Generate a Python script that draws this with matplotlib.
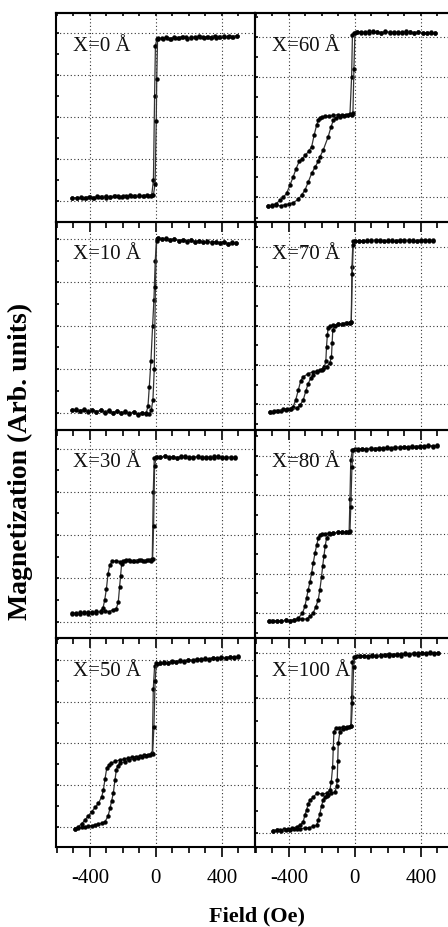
import matplotlib
matplotlib.use("Agg")
import matplotlib.pyplot as plt
from matplotlib.ticker import MultipleLocator, FixedLocator

plt.rcParams['font.family'] = ['Liberation Serif', 'DejaVu Serif']
plt.rcParams['axes.unicode_minus'] = False

# ---------------- data (field in Oe, magnetization in arb. units) ----------------
LABELS = ["X=0 Å", "X=60 Å", "X=10 Å", "X=70 Å", "X=30 Å", "X=80 Å", "X=50 Å", "X=100 Å"]

# X = 0
H_DN_0 = [490, 465, 440, 415, 390, 365, 340, 315, 290, 265, 240, 215, 190, 165, 140, 115, 90, 65, 40, 15, 5,
          -3, -8, -15, -25,
          -50, -75, -100, -125, -150, -175, -200, -225, -250, -275, -300, -325, -350, -375, -400, -425, -450, -475, -510]
M_DN_0 = [3.93, 3.91, 3.94, 3.90, 3.92, 3.89, 3.92, 3.90, 3.88, 3.91, 3.89, 3.90, 3.87, 3.90, 3.88, 3.89, 3.87, 3.89, 3.86, 3.88, 3.85,
          3.70, 2.50, 0.50, 0.15,
          0.13, 0.12, 0.14, 0.11, 0.12, 0.10, 0.12, 0.09, 0.11, 0.10, 0.08, 0.10, 0.09, 0.07, 0.09, 0.08, 0.06, 0.08, 0.07]
H_UP_0 = [-510, -480, -455, -430, -405, -380, -355, -330, -305, -280, -255, -230, -205, -180, -155, -130, -105, -80, -55, -30, -15,
          -5, 2, 5, 10,
          35, 60, 85, 110, 135, 160, 185, 210, 235, 260, 285, 310, 335, 360, 385, 410, 435, 460, 490]
M_UP_0 = [0.08, 0.06, 0.09, 0.07, 0.10, 0.08, 0.11, 0.09, 0.12, 0.10, 0.11, 0.13, 0.10, 0.12, 0.14, 0.11, 0.13, 0.12, 0.14, 0.13, 0.15,
          0.40, 1.90, 2.90, 3.86,
          3.88, 3.90, 3.87, 3.91, 3.89, 3.92, 3.90, 3.88, 3.91, 3.93, 3.90, 3.92, 3.89, 3.94, 3.91, 3.93, 3.90, 3.92, 3.94]

# X = 10
H_DN_10 = [487, 462, 437, 412, 387, 362, 337, 312, 287, 262, 237, 212, 187, 162, 137, 112, 87, 62, 37, 12, 4,
           -4, -12, -20, -30, -40, -48,
           -60, -85, -110, -135, -160, -185, -210, -235, -260, -285, -310, -335, -360, -385, -410, -435, -460, -485, -510]
M_DN_10 = [3.90, 3.92, 3.89, 3.93, 3.91, 3.94, 3.92, 3.95, 3.93, 3.96, 3.94, 3.97, 3.95, 3.98, 3.96, 4.00, 3.98, 4.01, 3.99, 4.02, 4.01,
           3.50, 2.60, 2.00, 1.20, 0.60, 0.15,
           -0.03, 0.00, -0.05, 0.02, -0.02, 0.03, -0.01, 0.04, 0.00, 0.05, 0.01, 0.06, 0.02, 0.07, 0.03, 0.08, 0.04, 0.07, 0.06]
H_UP_10 = [-510, -485, -460, -435, -410, -385, -360, -335, -310, -285, -260, -235, -210, -185, -160, -135, -110, -85, -60,
           -40, -28, -18, -10, -3, 4, 12,
           37, 62, 87, 112, 137, 162, 187, 212, 237, 262, 287, 312, 337, 362, 387, 412, 437, 462, 487]
M_UP_10 = [0.05, 0.08, 0.03, 0.07, 0.02, 0.06, 0.01, 0.05, 0.00, 0.04, -0.01, 0.03, -0.02, 0.02, -0.03, 0.01, -0.04, 0.00, -0.02,
           -0.03, 0.05, 0.30, 1.00, 2.90, 3.95, 4.03,
           4.00, 4.02, 3.98, 4.00, 3.96, 3.98, 3.94, 3.97, 3.93, 3.95, 3.92, 3.94, 3.90, 3.93, 3.91, 3.92, 3.89, 3.91, 3.90]

# X = 30
H_DN_30 = [477, 452, 427, 402, 377, 352, 327, 302, 277, 252, 227, 202, 177, 152, 127, 102, 77, 52, 27,
           5, -10, -16, -22, -40, -65, -90, -115, -140, -165, -190, -215, -240, -265, -280, -290, -300, -310, -320,
           -335, -360, -385, -410, -435, -460, -485, -510]
M_DN_30 = [3.79, 3.81, 3.78, 3.80, 3.82, 3.79, 3.81, 3.78, 3.80, 3.82, 3.79, 3.81, 3.80, 3.82, 3.79, 3.81, 3.80, 3.82, 3.81,
           3.80, 3.78, 3.00, 1.45, 1.42, 1.40, 1.43, 1.41, 1.39, 1.42, 1.40, 1.38, 1.41, 1.39, 1.30, 1.10, 0.75, 0.50, 0.32,
           0.24, 0.20, 0.22, 0.18, 0.21, 0.17, 0.20, 0.18]
H_UP_30 = [-510, -485, -460, -435, -410, -385, -360, -335, -310, -285, -260,
           -240, -228, -220, -214, -208, -200,
           -180, -155, -130, -105, -80, -55, -30,
           -20, -14, -8, 2,
           27, 52, 77, 102, 127, 152, 177, 202, 227, 252, 277, 302, 327, 352, 377, 402, 427, 452, 477]
M_UP_30 = [0.20, 0.17, 0.21, 0.19, 0.23, 0.20, 0.24, 0.21, 0.25, 0.23, 0.27,
           0.30, 0.45, 0.80, 1.05, 1.32, 1.40,
           1.42, 1.39, 1.41, 1.43, 1.40, 1.42, 1.41,
           1.44, 2.20, 3.60, 3.81,
           3.80, 3.82, 3.79, 3.81, 3.78, 3.80, 3.82, 3.79, 3.81, 3.80, 3.78, 3.81, 3.79, 3.82, 3.80, 3.78, 3.81, 3.79, 3.80]

# X = 50
H_DN_50 = [497, 472, 447, 422, 397, 372, 347, 322, 297, 272, 247, 222, 197, 172, 147, 122, 97, 72, 47, 22,
           5, -8, -16, -22, -45, -70, -95, -120, -145, -170, -195, -220, -245, -270, -285, -298, -308, -318, -328,
           -348, -368, -389, -409, -429, -449, -469, -489]
M_DN_50 = [4.08, 4.06, 4.07, 4.04, 4.05, 4.02, 4.04, 4.01, 4.02, 3.99, 4.00, 3.98, 3.99, 3.96, 3.97, 3.95, 3.96, 3.93, 3.94, 3.92,
           3.91, 3.85, 3.30, 1.76, 1.73, 1.72, 1.70, 1.68, 1.67, 1.64, 1.62, 1.60, 1.57, 1.52, 1.48, 1.40, 1.15, 0.88, 0.72,
           0.56, 0.46, 0.36, 0.26, 0.16, 0.07, 0.00, -0.05]
H_UP_50 = [-489, -469, -449, -429, -409, -389, -369, -349, -329,
           -308, -290, -278, -268, -258, -248, -240, -232,
           -215, -187, -160, -135, -110, -85, -60, -35,
           -20, -12, -5, 3,
           22, 47, 72, 97, 122, 147, 172, 197, 222, 247, 272, 297, 322, 347, 372, 397, 422, 447, 472, 497]
M_UP_50 = [-0.05, -0.04, -0.02, -0.01, 0.01, 0.02, 0.04, 0.06, 0.08,
           0.12, 0.25, 0.44, 0.62, 0.80, 1.12, 1.35, 1.46,
           1.52, 1.56, 1.60, 1.63, 1.65, 1.68, 1.70, 1.72,
           1.75, 2.40, 3.50, 3.92,
           3.93, 3.95, 3.94, 3.97, 3.96, 3.99, 3.98, 4.01, 4.00, 4.03, 4.02, 4.04, 4.03, 4.06, 4.05, 4.07, 4.06, 4.08, 4.07, 4.09]

# X = 60
H_DN_60 = [485, 460, 435, 410, 385, 360, 335, 310, 285, 260, 235, 210, 185, 160, 135, 110, 85, 60, 35, 10,
           -5, -15, -20, -30, -55, -80, -105, -130, -155, -180, -200, -212, -222, -232, -247, -262, -280, -300, -320,
           -337, -356, -374, -394, -414, -435, -455, -475, -500, -525]
M_DN_60 = [4.09, 4.11, 4.08, 4.10, 4.12, 4.09, 4.11, 4.13, 4.10, 4.12, 4.09, 4.11, 4.13, 4.10, 4.12, 4.11, 4.13, 4.10, 4.12, 4.11,
           4.10, 4.05, 3.00, 2.07, 2.06, 2.05, 2.06, 2.04, 2.03, 2.02, 2.00, 1.98, 1.92, 1.80, 1.55, 1.26, 1.15, 1.05, 0.96,
           0.90, 0.72, 0.51, 0.30, 0.10, 0.00, -0.07, -0.15, -0.19, -0.21]
H_UP_60 = [-525, -500, -475, -450, -425, -400, -375,
           -343, -323, -303, -283, -262, -242, -222, -212, -192, -162, -145, -131, -117,
           -91, -65, -40, -20, -12, -6, 0,
           10, 35, 60, 85, 110, 135, 160, 185, 210, 235, 260, 285, 310, 335, 360, 385, 410, 435, 460, 485]
M_UP_60 = [-0.20, -0.22, -0.19, -0.21, -0.18, -0.16, -0.13,
           -0.05, 0.06, 0.18, 0.38, 0.60, 0.75, 0.90, 1.01, 1.18, 1.51, 1.75, 1.92, 1.97,
           2.00, 2.02, 2.04, 2.06, 2.10, 3.20, 4.08,
           4.11, 4.09, 4.12, 4.10, 4.13, 4.11, 4.09, 4.12, 4.10, 4.12, 4.09, 4.11, 4.10, 4.12, 4.09, 4.11, 4.10, 4.08, 4.10, 4.09]

# X = 70
H_DN_70 = [475, 450, 425, 400, 375, 350, 325, 300, 275, 250, 225, 200, 175, 150, 125, 100, 75, 50, 25, 0,
           -12, -18, -22, -30, -55, -80, -105, -130, -152, -162, -167, -172, -176, -185, -202, -227, -253, -283, -313,
           -328, -343, -358, -374, -395, -420, -445, -470, -495, -515]
M_DN_70 = [4.17, 4.15, 4.18, 4.16, 4.14, 4.17, 4.15, 4.18, 4.16, 4.15, 4.17, 4.14, 4.16, 4.18, 4.15, 4.17, 4.14, 4.16, 4.15, 4.16,
           4.14, 3.50, 2.10, 2.07, 2.06, 2.04, 2.03, 2.01, 1.99, 1.95, 1.75, 1.46, 1.10, 0.95, 0.87, 0.85, 0.83, 0.78, 0.70,
           0.60, 0.36, 0.12, -0.06, -0.12, -0.15, -0.17, -0.18, -0.19, -0.19]
H_UP_70 = [-515, -490, -465, -434, -410, -385, -353, -333,
           -313, -298, -283, -268, -253, -232, -212, -192, -172, -152, -142, -138, -134,
           -121, -100, -75, -50, -30, -22, -16, -10, 0,
           25, 50, 75, 100, 125, 150, 175, 200, 225, 250, 275, 300, 325, 350, 375, 400, 425, 450, 475]
M_UP_70 = [-0.19, -0.18, -0.16, -0.12, -0.12, -0.11, -0.10, -0.02,
           0.11, 0.33, 0.53, 0.66, 0.75, 0.82, 0.87, 0.91, 0.95, 1.05, 1.21, 1.55, 1.89,
           2.00, 2.03, 2.05, 2.06, 2.07, 2.10, 3.30, 4.05, 4.15,
           4.16, 4.14, 4.17, 4.15, 4.18, 4.16, 4.14, 4.17, 4.15, 4.16, 4.18, 4.15, 4.17, 4.14, 4.16, 4.18, 4.15, 4.17, 4.16]

# X = 80
H_DN_80 = [495, 470, 445, 420, 395, 370, 345, 320, 295, 270, 245, 220, 195, 170, 145, 120, 95, 70, 45, 20,
           0, -15, -25, -30, -35, -55, -80, -105, -130, -155, -180, -200, -212, -222, -232, -242, -252, -262, -272,
           -283, -293, -303, -318, -343, -370, -395, -420, -445, -470, -500, -520]
M_DN_80 = [4.25, 4.23, 4.24, 4.22, 4.23, 4.21, 4.22, 4.20, 4.21, 4.19, 4.20, 4.18, 4.19, 4.17, 4.18, 4.16, 4.17, 4.15, 4.16, 4.15,
           4.16, 4.14, 3.90, 2.90, 2.07, 2.06, 2.05, 2.05, 2.04, 2.03, 2.02, 2.01, 1.99, 1.90, 1.72, 1.52, 1.28, 1.02, 0.80,
           0.59, 0.38, 0.17, 0.00, -0.13, -0.17, -0.19, -0.18, -0.20, -0.19, -0.21, -0.20]
H_UP_80 = [-520, -495, -470, -445, -420, -395, -370, -345, -320,
           -293, -273, -253, -238, -222, -212, -202, -195, -188, -180, -172,
           -152, -130, -105, -80, -55, -38, -30, -25, -18, -10,
           20, 45, 70, 95, 120, 145, 170, 195, 220, 245, 270, 295, 320, 345, 370, 395, 420, 445, 470, 495]
M_UP_80 = [-0.21, -0.20, -0.19, -0.20, -0.18, -0.19, -0.17, -0.16, -0.15,
           -0.15, -0.08, 0.00, 0.15, 0.34, 0.60, 0.93, 1.20, 1.44, 1.70, 1.90,
           2.02, 2.04, 2.05, 2.06, 2.06, 2.07, 2.08, 2.70, 3.72, 4.15,
           4.16, 4.18, 4.17, 4.19, 4.18, 4.20, 4.19, 4.21, 4.20, 4.22, 4.21, 4.23, 4.22, 4.24, 4.23, 4.25, 4.24, 4.26, 4.25, 4.26]

# X = 100
H_DN_100 = [505, 480, 455, 430, 405, 380, 355, 330, 305, 280, 255, 230, 205, 180, 155, 130, 105, 80, 55, 30,
            10, -5, -15, -20, -25, -45, -70, -95, -115, -127, -131, -135, -143, -152, -172, -200, -232, -253, -273,
            -283, -293, -303, -313, -333, -353, -378, -403, -428, -453, -474, -495]
M_DN_100 = [4.00, 3.99, 4.01, 3.98, 4.00, 3.97, 3.99, 3.96, 3.98, 3.95, 3.97, 3.96, 3.94, 3.96, 3.93, 3.95, 3.94, 3.92, 3.94, 3.93,
            3.93, 3.92, 3.80, 3.04, 2.38, 2.37, 2.36, 2.35, 2.34, 2.26, 1.90, 1.48, 1.15, 0.96, 0.89, 0.88, 0.89, 0.80, 0.74,
            0.65, 0.52, 0.41, 0.26, 0.18, 0.15, 0.12, 0.10, 0.09, 0.08, 0.07, 0.06]
H_UP_100 = [-495, -470, -445, -420, -395, -370, -353, -330, -300, -275, -253, -232,
            -222, -212, -202, -192, -182, -172, -162, -142, -121,
            -111, -107, -104, -101, -91, -75, -55, -35, -22, -15, -8, 0,
            30, 55, 80, 105, 130, 155, 180, 205, 230, 255, 280, 305, 330, 355, 380, 405, 430, 455, 480, 505]
M_UP_100 = [0.06, 0.07, 0.06, 0.08, 0.07, 0.09, 0.10, 0.11, 0.12, 0.13, 0.16, 0.18,
            0.30, 0.44, 0.62, 0.74, 0.80, 0.83, 0.86, 0.89, 0.92,
            1.05, 1.18, 1.60, 2.00, 2.26, 2.33, 2.35, 2.36, 2.38, 2.90, 3.70, 3.92,
            3.93, 3.95, 3.94, 3.96, 3.95, 3.97, 3.96, 3.98, 3.97, 3.99, 3.98, 4.00, 3.99, 4.01, 4.00, 4.01, 4.00, 4.02, 4.01, 4.00]

X_TICKS = [-400, 0, 400]
X_TICK_LABELS = ["-400", "0", "400"]

# panel order: row by row, left then right
PANELS = [
    (H_DN_0, M_DN_0, H_UP_0, M_UP_0),
    (H_DN_60, M_DN_60, H_UP_60, M_UP_60),
    (H_DN_10, M_DN_10, H_UP_10, M_UP_10),
    (H_DN_70, M_DN_70, H_UP_70, M_UP_70),
    (H_DN_30, M_DN_30, H_UP_30, M_UP_30),
    (H_DN_80, M_DN_80, H_UP_80, M_UP_80),
    (H_DN_50, M_DN_50, H_UP_50, M_UP_50),
    (H_DN_100, M_DN_100, H_UP_100, M_UP_100),
]
YLIMS = [(-0.50, 4.48), (-0.61, 4.59),
         (-0.40, 4.39), (-0.65, 4.63),
         (-0.38, 4.43), (-0.63, 4.65),
         (-0.49, 4.53), (-0.30, 4.34)]

# ---------------- figure ----------------
W, H = 448, 927
fig = plt.figure(figsize=(W / 100, H / 100), dpi=100)

col_x = [56, 255]
col_w = 199
row_y = [13, 222, 430, 638, 847]

for i, (hd, md, hu, mu) in enumerate(PANELS):
    r, c = divmod(i, 2)
    left = col_x[c] / W
    bottom = 1 - row_y[r + 1] / H
    height = (row_y[r + 1] - row_y[r]) / H
    ax = fig.add_axes([left, bottom, col_w / W, height])
    ax.set_facecolor('none')
    ax.set_xlim(-605, 600)
    ax.set_ylim(*YLIMS[i])
    for hh, mm in ((hd, md), (hu, mu)):
        ax.plot(hh, mm, color='#333333', lw=0.9, marker='o', ms=2.8,
                mfc='black', mec='black', mew=0.3, zorder=3)
    ax.xaxis.set_major_locator(FixedLocator(X_TICKS))
    ax.xaxis.set_minor_locator(MultipleLocator(100))
    ax.yaxis.set_major_locator(MultipleLocator(1))
    ax.yaxis.set_minor_locator(MultipleLocator(0.5))
    ax.grid(True, which='major', linestyle=(0, (1, 2.2)), color='#333333', lw=0.8)
    for s in ax.spines.values():
        s.set_linewidth(1.5)
    ax.tick_params(axis='x', which='major', direction='out', length=7.5, width=1.2,
                   top=False, labelsize=15, pad=8)
    ax.tick_params(axis='x', which='minor', direction='out', length=4, width=1.2, top=False)
    ax.tick_params(axis='y', which='both', direction='in', length=2.2, width=1.2,
                   labelleft=False, right=False)
    if r == 0:
        sec = ax.secondary_xaxis('top')
        sec.xaxis.set_major_locator(FixedLocator(X_TICKS))
        sec.xaxis.set_minor_locator(MultipleLocator(100))
        sec.tick_params(axis='x', which='both', direction='in', length=2.2, width=1.2,
                        labeltop=False)
        sec.spines['top'].set_linewidth(1.5)
    if r == 3:
        ax.set_xticklabels(X_TICK_LABELS)
    else:
        ax.tick_params(axis='x', labelbottom=False)
    ax.text(0.085, 0.842, LABELS[i], transform=ax.transAxes, fontsize=15,
            ha='left', va='center', color='#111111', zorder=4)

fig.text(0.573, 0.011, "Field (Oe)", ha='center', va='center', fontsize=16, fontweight='bold')
fig.text(0.045, 0.502, "Magnetization (Arb. units)", ha='center', va='center', rotation=90,
         fontsize=20, fontweight='bold')

fig.savefig("out.png", dpi=100)
